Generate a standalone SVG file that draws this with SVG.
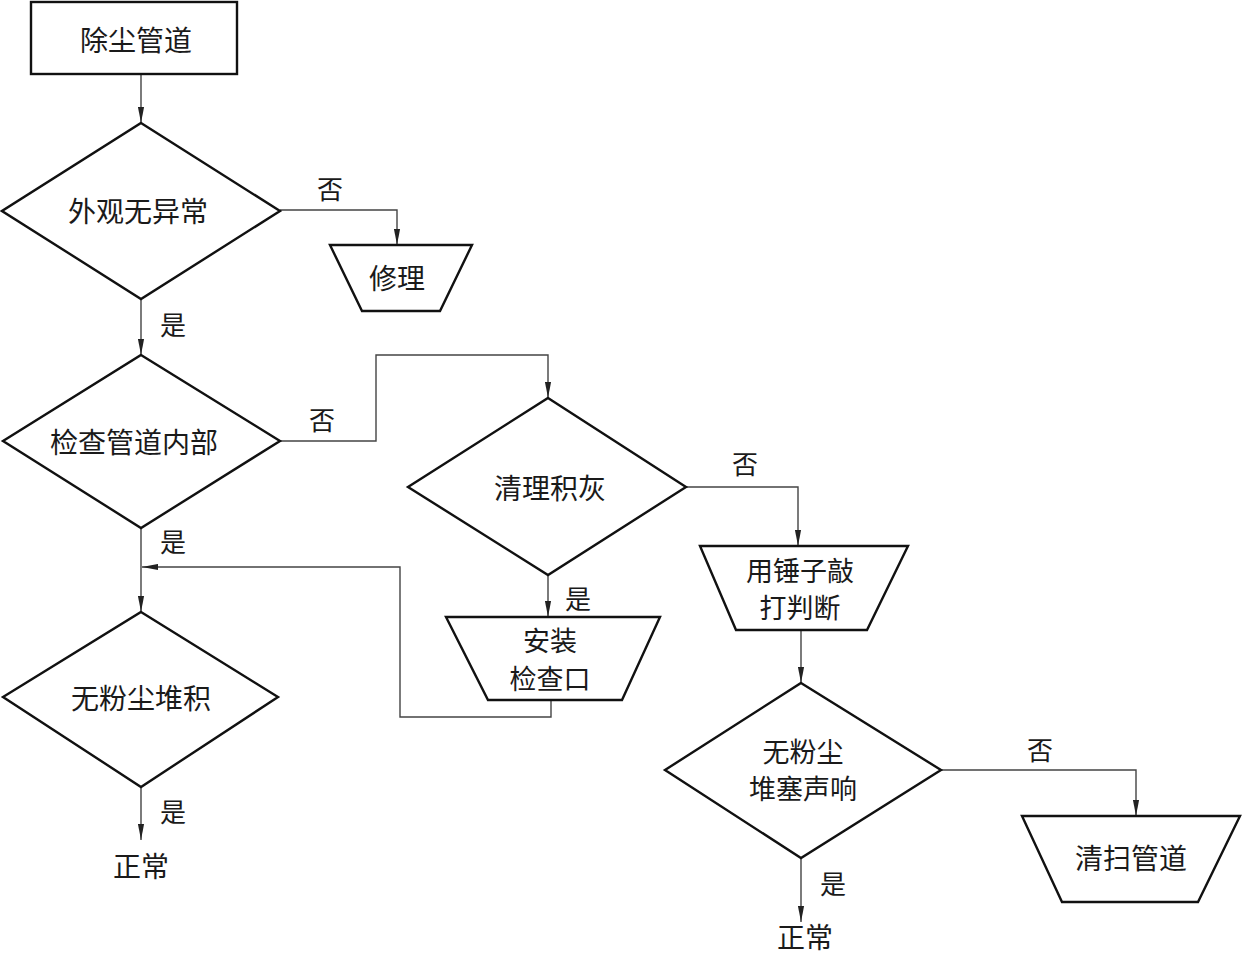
<svg xmlns="http://www.w3.org/2000/svg" width="1242" height="955" viewBox="0 0 1242 955">
<defs>
<marker id="ah" viewBox="0 0 16 8" refX="16" refY="4" markerWidth="16" markerHeight="7" markerUnits="userSpaceOnUse" orient="auto" preserveAspectRatio="none">
<path d="M0,0.5 L16,4 L0,7.5 Z" fill="#222"/>
</marker>
<style>
.s{fill:#fff;stroke:#111;stroke-width:2.4;stroke-linejoin:miter}
.t{font-family:"Noto Sans CJK SC","Noto Sans CJK JP",sans-serif;font-size:28px;fill:#1a1a1a;text-anchor:middle;dominant-baseline:central}
.m{font-family:"Noto Sans CJK SC","Noto Sans CJK JP",sans-serif;font-size:27px;fill:#1a1a1a;text-anchor:middle;dominant-baseline:central}
.l{font-family:"Noto Sans CJK SC","Noto Sans CJK JP",sans-serif;font-size:26px;fill:#1a1a1a;text-anchor:middle;dominant-baseline:central}
.c{fill:none;stroke:#444;stroke-width:1.4}
</style>
</defs>
<rect width="1242" height="955" fill="#fff"/>
<g id="connectors">
<path class="c" d="M141,75 V123" marker-end="url(#ah)"/>
<path class="c" d="M280,210 H397 V245" marker-end="url(#ah)"/>
<path class="c" d="M141,299 V355" marker-end="url(#ah)"/>
<path class="c" d="M280,441 H376 V355 H548 V398" marker-end="url(#ah)"/>
<path class="c" d="M686,487 H798 V546" marker-end="url(#ah)"/>
<path class="c" d="M801,630 V683" marker-end="url(#ah)"/>
<path class="c" d="M941,770 H1136 V816" marker-end="url(#ah)"/>
<path class="c" d="M801,858 V922" marker-end="url(#ah)"/>
<path class="c" d="M548,575 V617" marker-end="url(#ah)"/>
<path class="c" d="M551,700 V717 H400 V567 H142" marker-end="url(#ah)"/>
<path class="c" d="M141,528 V612" marker-end="url(#ah)"/>
<path class="c" d="M141,787 V840" marker-end="url(#ah)"/>
<text class="l" x="330" y="187">否</text>
<text class="l" x="173" y="323">是</text>
<text class="l" x="322" y="418">否</text>
<text class="l" x="745" y="462">否</text>
<text class="l" x="173" y="540">是</text>
<text class="l" x="578" y="597">是</text>
<text class="l" x="1040" y="748">否</text>
<text class="l" x="833" y="882">是</text>
<text class="l" x="173" y="810">是</text>
</g>
<g id="start">
<rect class="s" x="31" y="2" width="206" height="72"/>
<text class="t" x="136" y="39">除尘管道</text>
</g>
<g id="d1">
<path class="s" d="M141,123 L280,211 L141,299 L2,211 Z"/>
<text class="t" x="138" y="210">外观无异常</text>
</g>
<g id="repair">
<path class="s" d="M330,245 H472 L440,311 H362 Z"/>
<text class="t" x="397" y="277">修理</text>
</g>
<g id="d2">
<path class="s" d="M141,355 L280,441 L141,528 L3,441 Z"/>
<text class="t" x="134" y="441">检查管道内部</text>
</g>
<g id="d3">
<path class="s" d="M548,398 L686,487 L548,575 L408,487 Z"/>
<text class="t" x="550" y="487">清理积灰</text>
</g>
<g id="install">
<path class="s" d="M446,617 H660 L622,700 H488 Z"/>
<text class="m" x="550" y="639">安装</text>
<text class="m" x="550" y="677">检查口</text>
</g>
<g id="hammer">
<path class="s" d="M700,546 H908 L867,630 H736 Z"/>
<text class="m" x="800" y="569">用锤子敲</text>
<text class="m" x="800" y="606">打判断</text>
</g>
<g id="d4">
<path class="s" d="M801,683 L941,770 L801,858 L665,770 Z"/>
<text class="m" x="803" y="750">无粉尘</text>
<text class="m" x="803" y="787">堆塞声响</text>
</g>
<g id="clean">
<path class="s" d="M1022,816 H1240 L1198,902 H1062 Z"/>
<text class="t" x="1131" y="857">清扫管道</text>
</g>
<g id="normal2">
<text class="t" x="805" y="936">正常</text>
</g>
<g id="d5">
<path class="s" d="M141,612 L278,697 L141,787 L3,697 Z"/>
<text class="t" x="141" y="697">无粉尘堆积</text>
</g>
<g id="normal1">
<text class="t" x="141" y="865">正常</text>
</g>
</svg>
